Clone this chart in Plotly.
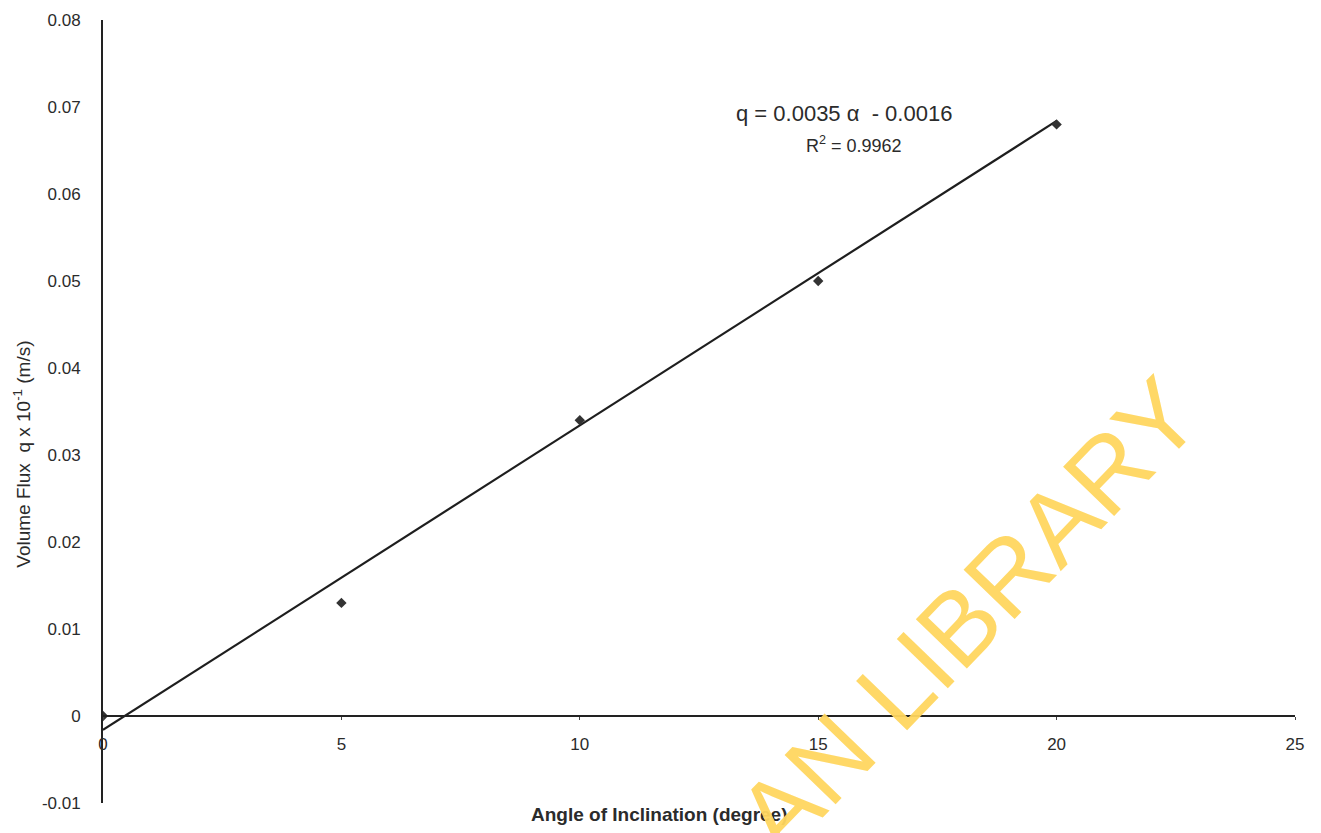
import plotly.graph_objects as go

# Data
angle_deg = [0, 5, 10, 15, 20]
volume_flux = [0.0, 0.013, 0.034, 0.050, 0.068]

# Linear trendline (q = 0.0035 a - 0.0016) endpoints
trend_x = [0, 20]
trend_y = [-0.0016, 0.0684]

x_tick_vals = [0, 5, 10, 15, 20, 25]
x_tick_text = ["0", "5", "10", "15", "20", "25"]
y_tick_vals = [-0.01, 0, 0.01, 0.02, 0.03, 0.04, 0.05, 0.06, 0.07, 0.08]
y_tick_text = ["-0.01", "0", "0.01", "0.02", "0.03", "0.04", "0.05", "0.06", "0.07", "0.08"]

x_range = [0, 25]
y_range = [-0.01, 0.08]

equation_text = "q = 0.0035 \u03b1  - 0.0016"
r2_text = "R<sup>2</sup> = 0.9962"
x_title = "Angle of Inclination (degree)"
y_title = "Volume Flux  q x 10<sup>-1</sup> (m/s)"
watermark = "AN LIBRARY"

FONT = "Liberation Sans, Arial, sans-serif"
INK = "#2b2b2b"

fig = go.Figure()

fig.add_trace(go.Scatter(
    x=trend_x, y=trend_y, mode="lines",
    line=dict(color="#1e1e1e", width=2.2),
    showlegend=False, hoverinfo="skip",
))
fig.add_trace(go.Scatter(
    x=angle_deg, y=volume_flux, mode="markers",
    marker=dict(symbol="diamond", size=8, color="#333333"),
    showlegend=False,
))

# x axis crosses at y = 0
x_pos = (0 - y_range[0]) / (y_range[1] - y_range[0])

fig.update_layout(
    width=1321, height=833,
    margin=dict(l=95, r=34, t=12, b=38),
    paper_bgcolor="white", plot_bgcolor="white",
    font=dict(family=FONT, color=INK, size=17),
    xaxis=dict(
        range=x_range, tickvals=x_tick_vals, ticktext=x_tick_text,
        showgrid=False, zeroline=False,
        showline=True, linecolor="#222", linewidth=1.8,
        anchor="free", position=x_pos,
        ticks="outside", ticklen=3, tickcolor="#444",
        ticklabelstandoff=10,
        tickfont=dict(size=17, color=INK),
        automargin=False,
    ),
    yaxis=dict(
        range=y_range, tickvals=y_tick_vals, ticktext=y_tick_text,
        showgrid=False, zeroline=False,
        showline=True, linecolor="#222", linewidth=1.8,
        ticks="", ticklabelstandoff=17,
        tickfont=dict(size=17, color=INK),
        automargin=False,
    ),
    annotations=[
        dict(x=0.467, y=-0.0153, xref="paper", yref="paper", text="<b>" + x_title + "</b>",
             showarrow=False, font=dict(size=19, color=INK, family=FONT),
             xanchor="center", yanchor="middle"),
        dict(x=-0.068, y=0.446, xref="paper", yref="paper", text=y_title, textangle=-90,
             showarrow=False, font=dict(size=19, color=INK, family=FONT),
             xanchor="center", yanchor="middle"),
        dict(x=15.55, y=0.0692, xref="x", yref="y", text=equation_text, showarrow=False,
             font=dict(size=22, color=INK, family=FONT), xanchor="center", yanchor="middle"),
        dict(x=15.75, y=0.0657, xref="x", yref="y", text=r2_text, showarrow=False,
             font=dict(size=18, color=INK, family=FONT), xanchor="center", yanchor="middle"),
        dict(x=0.726, y=0.240, xref="paper", yref="paper", text=watermark, showarrow=False,
             textangle=-46, font=dict(size=103, color="rgba(255,214,95,0.95)", family=FONT),
             xanchor="center", yanchor="middle"),
    ],
)

fig.write_html("out.html")
